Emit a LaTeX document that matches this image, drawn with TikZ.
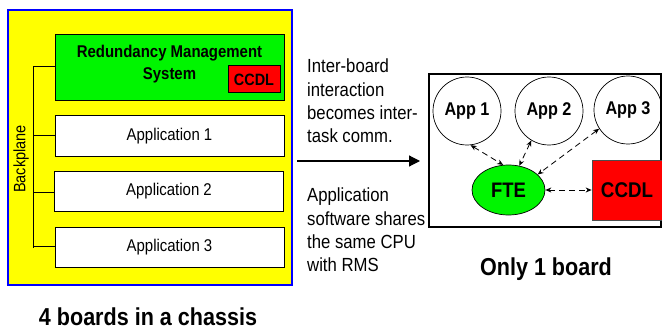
\documentclass[tikz,border=0pt]{standalone}
\usepackage{fontspec}
\setmainfont{Liberation Sans}[FakeStretch=0.88]
\usetikzlibrary{arrows.meta,shapes.geometric}
\definecolor{chassisyellow}{RGB}{255,255,0}
\definecolor{chassisblue}{RGB}{0,0,255}
\definecolor{rmsgreen}{RGB}{0,245,0}
\definecolor{ccdlred}{RGB}{255,0,0}
\tikzset{
  board/.style={draw=black, line width=1pt, inner sep=0pt},
  appbox/.style={board, fill=white, minimum width=229pt, minimum height=40pt, font=\fontsize{17}{20}\selectfont},
  appcircle/.style={draw=black, line width=0.7pt, circle, minimum size=68pt, inner sep=0pt, font=\bfseries\fontsize{18.4}{22}\selectfont},
  dasharrow/.style={dash pattern=on 6pt off 4pt, line width=0.8pt, {Stealth[length=6pt,width=5pt]}-{Stealth[length=6pt,width=5pt]}},
  bus/.style={line width=1pt, draw=black},
  note/.style={align=left, anchor=north west, inner sep=0pt, font=\fontsize{19}{23.3}\selectfont},
  caption/.style={font=\bfseries\fontsize{24.5}{28}\selectfont, inner sep=0pt, anchor=base}
}
\begin{document}
\begin{tikzpicture}[x=1pt,y=-1pt]
\useasboundingbox (0,0) rectangle (662,329);
% chassis
\node[draw=chassisblue, line width=1.6pt, fill=chassisyellow, minimum width=284pt, minimum height=275pt, inner sep=0pt] (chassis) at (150,147.5) {};
\node[board, fill=rmsgreen, minimum width=229pt, minimum height=66pt] (rms) at (169.5,68) {};
\node[align=center, inner sep=0pt, font=\bfseries\fontsize{17}{22}\selectfont] (rmstext) at (169.5,64) {Redundancy Management\\System};
\node[board, fill=ccdlred, minimum width=52pt, minimum height=27pt, font=\bfseries\fontsize{16.4}{19}\selectfont] (ccdlsmall) at (254,79.5) {CCDL};
\node[appbox] (app1b) at (169.5,136) {Application 1};
\node[appbox] (app2b) at (169,191.5) {Application 2};
\node[appbox] (app3b) at (169.5,247) {Application 3};
% backplane
\coordinate (bptop) at (33,67);
\coordinate (bpbot) at (33,248);
\draw[bus] (bptop) -- (bpbot);
\draw[bus] (bptop) -- (rms.west |- bptop);
\draw[bus] (33,135) -- (app1b.west |- 0,135);
\draw[bus] (33,192) -- (app2b.west |- 0,192);
\draw[bus] (33,246) -- (app3b.west |- 0,246);
\node[rotate=90, inner sep=0pt, font=\fontsize{16.5}{19}\selectfont] (bplabel) at (21,159) {Backplane};
\node[caption] (cap1) at (148,325) {4 boards in a chassis};
% middle
\node[note] (note1) at (307,58.8) {Inter-board\\interaction\\becomes inter-\\task comm.};
\node[note] (note2) at (307,187.8) {Application\\software shares\\the same CPU\\with RMS};
\coordinate (arrowstart) at (297,161);
\coordinate (arrowend) at (420,161);
\draw[line width=1.2pt, -{Triangle[length=11pt,width=11pt]}] (arrowstart) -- (arrowend);
% single board
\node[draw=black, line width=1.2pt, minimum width=232pt, minimum height=153pt, inner sep=0pt] (board) at (545,150.5) {};
\node[appcircle] (app1) at (467,111) {App 1};
\node[appcircle] (app2) at (549,111) {App 2};
\node[appcircle] (app3) at (628,110) {App 3};
\node[draw=black, line width=0.7pt, fill=rmsgreen, ellipse, minimum width=73pt, minimum height=50pt, inner sep=0pt, font=\bfseries\fontsize{21}{24}\selectfont] (fte) at (508.5,190) {FTE};
\node[draw=black!70, line width=0.7pt, fill=ccdlred, minimum width=70pt, minimum height=60pt, inner sep=0pt, font=\bfseries\fontsize{21.3}{24}\selectfont] (ccdl) at (627,190) {CCDL};
\draw[dasharrow] (app1.-84) -- (fte.102);
\draw[dasharrow] (app2.-121) -- (fte.66);
\draw[dasharrow] (app3.-147) -- (fte.28);
\draw[dasharrow] (fte.east) -- (ccdl.west);
\node[caption] (cap2) at (546,275) {Only 1 board};
\end{tikzpicture}
\end{document}
